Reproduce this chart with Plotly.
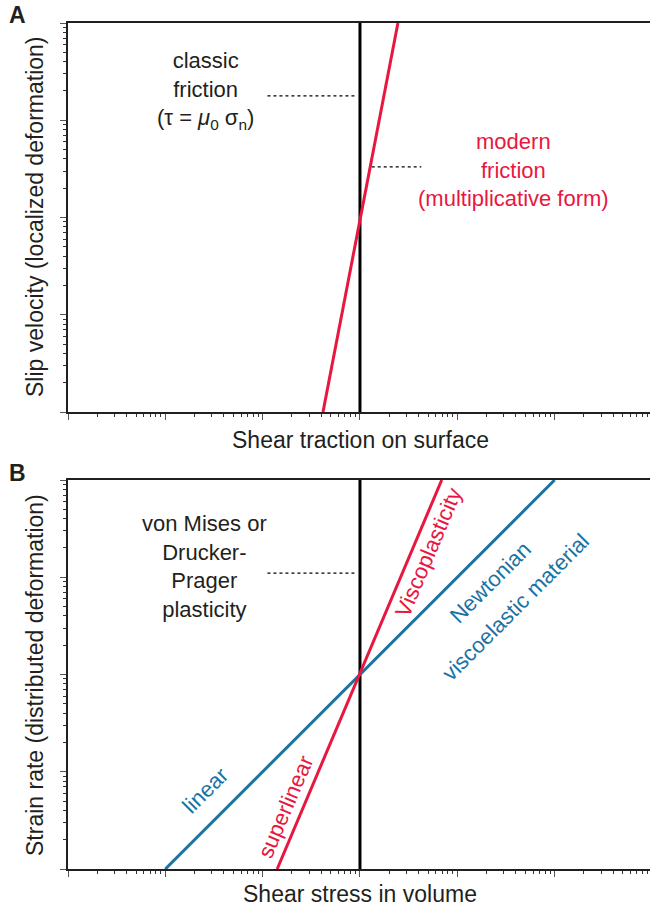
import plotly.graph_objects as go

# ---------------- data ----------------
# Panel A (log-log, arbitrary units: x 1..1e6, y 1..1e4)
a_classic_x = [1000, 1000]
a_classic_y = [1, 10000]
a_modern_x = [417, 2455]
a_modern_y = [1, 10000]
a_lead1_x = [112, 930]
a_lead1_y = [1780, 1780]
a_lead2_x = [1320, 4270]
a_lead2_y = [331, 331]

# Panel B
b_plastic_x = [1000, 1000]
b_plastic_y = [1, 10000]
b_newton_x = [10, 100000]
b_newton_y = [1, 10000]
b_visco_x = [141, 6918]
b_visco_y = [1, 10000]
b_lead_x = [112, 930]
b_lead_y = [1100, 1100]

RED = "#E8173F"
BLUE = "#1A73A5"
BLACK = "#000000"
TXT = "#231F20"
FONT = "Liberation Sans, Arial, Helvetica, sans-serif"

fig = go.Figure()

def line(x, y, color, width, xa, ya, dash=None):
    fig.add_trace(go.Scatter(x=x, y=y, mode="lines", xaxis=xa, yaxis=ya,
                             line=dict(color=color, width=width, dash=dash),
                             showlegend=False, hoverinfo="skip"))

LEAD = "3px,3px"
# panel A
line(a_lead1_x, a_lead1_y, BLACK, 1.3, "x", "y", LEAD)
line(a_lead2_x, a_lead2_y, BLACK, 1.3, "x", "y", LEAD)
line(a_classic_x, a_classic_y, BLACK, 3, "x", "y")
line(a_modern_x, a_modern_y, RED, 3, "x", "y")
# panel B
line(b_lead_x, b_lead_y, BLACK, 1.3, "x2", "y2", LEAD)
line(b_plastic_x, b_plastic_y, BLACK, 3, "x2", "y2")
line(b_newton_x, b_newton_y, BLUE, 3, "x2", "y2")
line(b_visco_x, b_visco_y, RED, 3, "x2", "y2")

H = 907.0
W = 650.0
dA = [1 - 412 / H, 1 - 23 / H]
dB = [1 - 869 / H, 1 - 480 / H]
dX = [68 / W, 1.0]

def xax(domain, anchor):
    return dict(type="log", range=[0, 5.98], domain=domain, anchor=anchor,
                showline=True, linecolor="#231F20", linewidth=2, mirror=True,
                ticks="outside", ticklen=6, tickwidth=1, tickcolor="#555555",
                dtick=1, showticklabels=False, showgrid=False, zeroline=False,
                minor=dict(ticks="outside", ticklen=3, tickwidth=1,
                           tickcolor="#333333", showgrid=False))

def yax(domain, anchor):
    return dict(type="log", range=[0, 4], domain=domain, anchor=anchor,
                showline=True, linecolor="#231F20", linewidth=2, mirror=False,
                ticks="outside", ticklen=6, tickwidth=1, tickcolor="#555555",
                dtick=1, showticklabels=False, showgrid=False, zeroline=False,
                minor=dict(ticks="outside", ticklen=3, tickwidth=1,
                           tickcolor="#333333", showgrid=False))

fig.update_layout(
    width=650, height=907,
    margin=dict(l=0, r=0, t=0, b=0),
    paper_bgcolor="white", plot_bgcolor="white",
    font=dict(family=FONT, size=22, color=TXT),
    xaxis=xax(dX, "y"), yaxis=yax(dA, "x"),
    xaxis2=xax(dX, "y2"), yaxis2=yax(dB, "x2"),
)

def px_ann(text, x, y, size=22, color=TXT, angle=0, bold=False):
    fig.add_annotation(text=f"<b>{text}</b>" if bold else text,
                       x=x / W, y=1 - y / H, xref="paper", yref="paper",
                       showarrow=False, textangle=angle,
                       font=dict(size=size, color=color, family=FONT),
                       xanchor="center", yanchor="middle")

# axis titles
px_ann("Slip velocity (localized deformation)", 35, 217, size=23, angle=-90)
px_ann("Shear traction on surface", 360, 440, size=23)
px_ann("Strain rate (distributed deformation)", 35, 675, size=23, angle=-90)
px_ann("Shear stress in volume", 360, 894, size=23)
# panel letters
px_ann("A", 17, 15, size=23, bold=True)
px_ann("B", 17, 473, size=23, bold=True)

# in-plot labels
px_ann("classic<br>friction<br>(τ = <i>μ</i><sub>0</sub> σ<sub>n</sub>)", 205, 91)
px_ann("modern<br>friction<br>(multiplicative form)", 513, 170, color=RED)
px_ann("von Mises or<br>Drucker-<br>Prager<br>plasticity", 204, 566)
px_ann("Viscoplasticity", 428, 552, color=RED, angle=-67)
px_ann("Newtonian", 490, 582, color=BLUE, angle=-45)
px_ann("viscoelastic material", 515, 607, color=BLUE, angle=-45)
px_ann("linear", 205, 790, color=BLUE, angle=-45)
px_ann("superlinear", 285, 807, color=RED, angle=-67)

fig.write_html("out.html", config={"displayModeBar": False},
               post_script="document.body.style.margin='0';document.body.style.padding='0';")
